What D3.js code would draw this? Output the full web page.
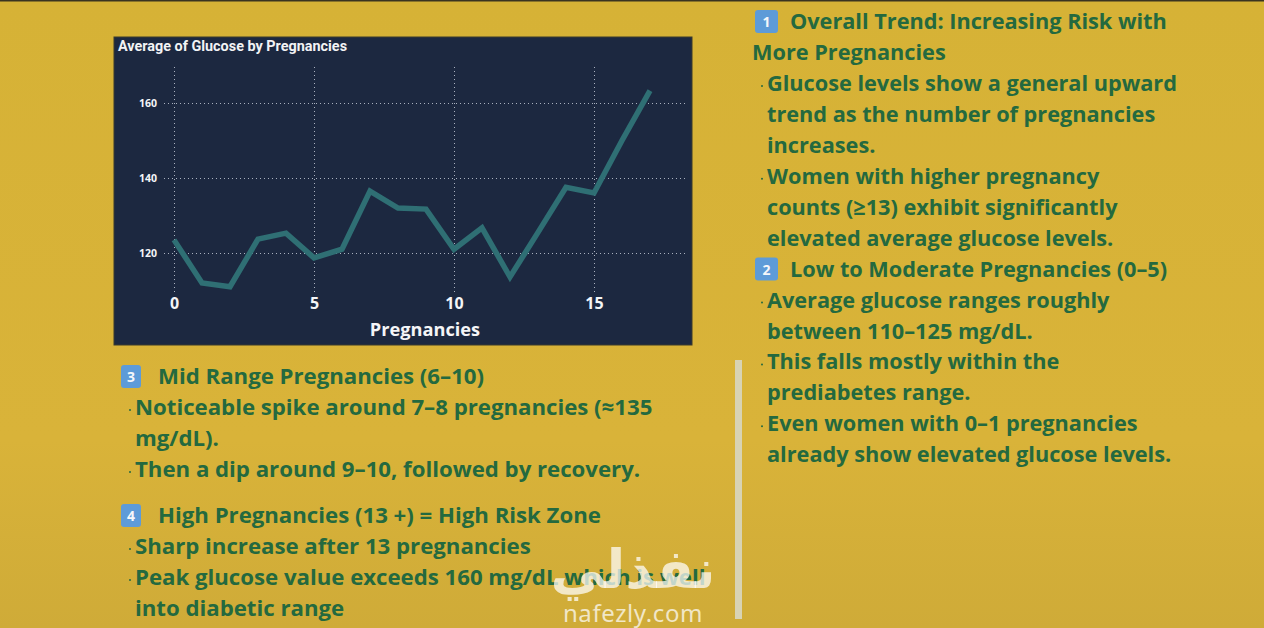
<!DOCTYPE html>
<html>
<head>
<meta charset="utf-8">
<script src="https://cdn.jsdelivr.net/npm/d3@7"></script>
<style>
  html, body { margin: 0; padding: 0; background: #d6b136; overflow: hidden; }
  svg { display: block; }
</style>
</head>
<body>
<div id="chart"></div>
<script>
const pregnancies = [0, 1, 2, 3, 4, 5, 6, 7, 8, 9, 10, 11, 12, 13, 14, 15, 16, 17];
const avgGlucose = [123.5, 112, 111, 123.7, 125.3, 118.7, 121, 136.5, 132, 131.7, 121, 126.7, 113.6, 125.5, 137.5, 136, 150, 163.3];
const xTicks = [0, 5, 10, 15];
const yTicks = [120, 140, 160];

const chartTitle = "Average of Glucose by Pregnancies";
const xTitle = "Pregnancies";

// h = heading with number badge, b = bullet, c = continued line, n = no indent heading wrap
const notesRight = [
  ["h", "Overall Trend: Increasing Risk with", "1"],
  ["n", "More Pregnancies"],
  ["b", "Glucose levels show a general upward"],
  ["c", "trend as the number of pregnancies"],
  ["c", "increases."],
  ["b", "Women with higher pregnancy"],
  ["c", "counts (≥13) exhibit significantly"],
  ["c", "elevated average glucose levels."],
  ["h", "Low to Moderate Pregnancies (0–5)", "2"],
  ["b", "Average glucose ranges roughly"],
  ["c", "between 110–125 mg/dL."],
  ["b", "This falls mostly within the"],
  ["c", "prediabetes range."],
  ["b", "Even women with 0–1 pregnancies"],
  ["c", "already show elevated glucose levels."]
];
const notesMid = [
  ["h", "Mid Range Pregnancies (6–10)", "3"],
  ["b", "Noticeable spike around 7–8 pregnancies (≈135"],
  ["c", "mg/dL)."],
  ["b", "Then a dip around 9–10, followed by recovery."]
];
const notesHigh = [
  ["h", "High Pregnancies (13 +) = High Risk Zone", "4"],
  ["b", "Sharp increase after 13 pregnancies"],
  ["b", "Peak glucose value exceeds 160 mg/dL which is well"],
  ["c", "into diabetic range"]
];

const width = 1264, height = 628;
const textColor = "#24693f";
const textFont = "'Open Sans', 'Noto Sans', sans-serif";

const svg = d3.select("#chart").append("svg")
  .attr("width", width)
  .attr("height", height);

const defs = svg.append("defs");
const bg = defs.append("linearGradient").attr("id", "bg")
  .attr("x1", 0).attr("y1", 0).attr("x2", 0).attr("y2", 1);
bg.append("stop").attr("offset", "0%").attr("stop-color", "#d6b236");
bg.append("stop").attr("offset", "70%").attr("stop-color", "#d9b339");
bg.append("stop").attr("offset", "100%").attr("stop-color", "#cfab38");

svg.append("rect").attr("width", width).attr("height", height).attr("fill", "url(#bg)");
svg.append("rect").attr("width", width).attr("height", 1.5).attr("fill", "#3a3420");

// chart panel
svg.append("rect")
  .attr("x", 114).attr("y", 37).attr("width", 578).attr("height", 308)
  .attr("fill", "#1c2840")
  .attr("stroke", "#3b3a2c")
  .attr("stroke-width", 1);

const x = d3.scaleLinear().domain([0, 15]).range([174, 594]);
const y = d3.scaleLinear().domain([120, 160]).range([253, 103]);

const xAxis = svg.append("g")
  .attr("transform", "translate(0,292)")
  .call(d3.axisBottom(x).tickValues(xTicks).tickSize(-225).tickPadding(6));
const yAxis = svg.append("g")
  .attr("transform", "translate(164,0)")
  .call(d3.axisLeft(y).tickValues(yTicks).tickSize(-521).tickPadding(7));

function styleAxis(g, size) {
  g.select(".domain").remove();
  g.selectAll("line")
    .attr("stroke", "#aab1bf")
    .attr("stroke-width", 1)
    .attr("stroke-dasharray", "1 3");
  g.selectAll("text")
    .attr("fill", "#f4f5f7")
    .attr("font-family", "'Open Sans', sans-serif")
    .attr("font-weight", 700)
    .attr("font-size", size);
}
styleAxis(xAxis, 16);
styleAxis(yAxis, 10.5);

svg.append("path")
  .datum(avgGlucose)
  .attr("d", d3.line().x((d, i) => x(pregnancies[i])).y(d => y(d)))
  .attr("fill", "none")
  .attr("stroke", "#2f6f74")
  .attr("stroke-width", 5.5);

svg.append("text")
  .attr("x", 118).attr("y", 50.5)
  .attr("fill", "#f2f3f5")
  .attr("font-family", "'Roboto', sans-serif")
  .attr("font-weight", 700)
  .attr("font-size", 14.4)
  .text(chartTitle);

svg.append("text")
  .attr("x", 425).attr("y", 336)
  .attr("text-anchor", "middle")
  .attr("fill", "#f4f5f7")
  .attr("font-family", "'Open Sans', sans-serif")
  .attr("font-weight", 700)
  .attr("font-size", 18.2)
  .text(xTitle);

// text blocks
function drawNotes(lines, opts) {
  const g = svg.append("g");
  lines.forEach((line, i) => {
    const base = opts.y + i * opts.step;
    const kind = line[0];
    let tx = opts.indent;
    if (kind === "h") tx = opts.head;
    if (kind === "n") tx = opts.wrap;
    g.append("text")
      .attr("x", tx).attr("y", base)
      .attr("fill", textColor)
      .attr("font-family", textFont)
      .attr("font-weight", 700)
      .attr("font-size", opts.size)
      .text(line[1]);
    if (kind === "b") {
      g.append("circle")
        .attr("cx", opts.indent - 5).attr("cy", base - 5).attr("r", 1)
        .attr("fill", textColor);
    }
    if (kind === "h") {
      g.append("rect")
        .attr("x", opts.badgeX).attr("y", base - 19)
        .attr("width", opts.badgeW).attr("height", 23).attr("rx", 3)
        .attr("fill", "#5d9bd8");
      g.append("text")
        .attr("x", opts.badgeX + opts.badgeW / 2).attr("y", base - 2)
        .attr("text-anchor", "middle")
        .attr("fill", "#f5f7fa")
        .attr("font-family", "'Open Sans', sans-serif")
        .attr("font-weight", 700)
        .attr("font-size", 14)
        .text(line[2]);
    }
  });
}

drawNotes(notesRight, { y: 29, step: 30.95, indent: 767, head: 790, wrap: 752, size: 21.7, badgeX: 755, badgeW: 23 });
drawNotes(notesMid, { y: 384, step: 31, indent: 135, head: 158, wrap: 135, size: 22.2, badgeX: 121, badgeW: 20 });
drawNotes(notesHigh, { y: 523, step: 31, indent: 135, head: 158, wrap: 135, size: 22.2, badgeX: 121, badgeW: 20 });

// scrollbar
svg.append("rect")
  .attr("x", 735).attr("y", 360).attr("width", 7).attr("height", 259)
  .attr("fill", "#d8d3b4");

// watermark
svg.append("text")
  .attr("x", 633).attr("y", 588)
  .attr("text-anchor", "middle")
  .attr("fill", "#ffffff").attr("fill-opacity", 0.72)
  .attr("font-family", "'Noto Sans', 'DejaVu Sans', sans-serif")
  .attr("font-weight", 700)
  .attr("font-size", 54)
  .text("نفذلي");
svg.append("text")
  .attr("x", 633).attr("y", 622)
  .attr("text-anchor", "middle")
  .attr("fill", "#ffffff").attr("fill-opacity", 0.72)
  .attr("font-family", "'Noto Sans', sans-serif")
  .attr("font-size", 24)
  .attr("letter-spacing", 0.6)
  .text("nafezly.com");
</script>
</body>
</html>
